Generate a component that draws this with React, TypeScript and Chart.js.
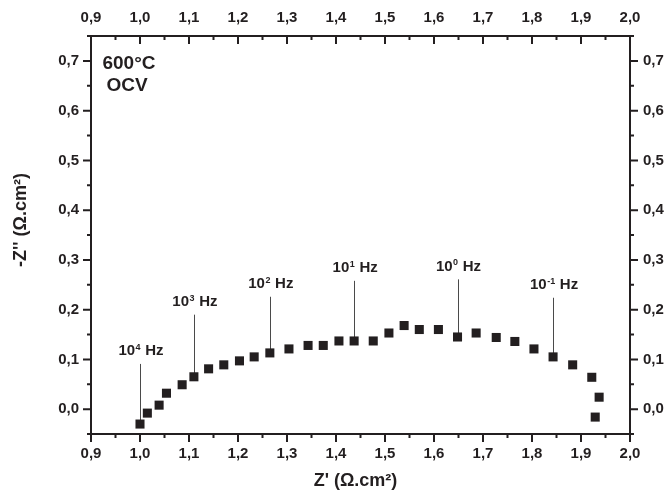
import React, { useEffect, useRef } from 'react';
import { Chart, registerables } from 'chart.js';

Chart.register(...registerables);

// Nyquist data: Z' (real) and -Z'' (imaginary), Ω.cm²
const zReal = [
  1.0, 1.015, 1.039, 1.054, 1.086, 1.11, 1.14, 1.171, 1.203, 1.233, 1.265,
  1.304, 1.343, 1.374, 1.406, 1.437, 1.476, 1.508, 1.539, 1.57, 1.609, 1.648,
  1.686, 1.727, 1.765, 1.804, 1.843, 1.883, 1.922, 1.937, 1.929,
];
const zImag = [
  -0.03, -0.008, 0.008, 0.032, 0.049, 0.065, 0.081, 0.089, 0.097, 0.105, 0.113,
  0.121, 0.128, 0.128, 0.137, 0.137, 0.137, 0.153, 0.168, 0.16, 0.16, 0.145,
  0.153, 0.144, 0.136, 0.121, 0.105, 0.089, 0.064, 0.024, -0.016,
];

// frequency markers
const freqExponents = ['4', '3', '2', '1', '0', '-1'];
const freqPointIndex = [0, 5, 10, 15, 21, 26];
const freqLabelY = [0.119, 0.218, 0.254, 0.286, 0.289, 0.252];

const xTickValues = [0.9, 1.0, 1.1, 1.2, 1.3, 1.4, 1.5, 1.6, 1.7, 1.8, 1.9, 2.0];
const xTickLabels = ['0,9', '1,0', '1,1', '1,2', '1,3', '1,4', '1,5', '1,6', '1,7', '1,8', '1,9', '2,0'];
const yTickValues = [0.0, 0.1, 0.2, 0.3, 0.4, 0.5, 0.6, 0.7];
const yTickLabels = ['0,0', '0,1', '0,2', '0,3', '0,4', '0,5', '0,6', '0,7'];

const conditionLines = ['600°C', 'OCV'];
const xTitle = "Z' (Ω.cm²)";
const yTitle = "-Z'' (Ω.cm²)";

const FONT = '"Liberation Sans", Arial, Helvetica, sans-serif';
const INK = '#231f20';

function labelFor(values: number[], labels: string[], v: number): string {
  for (let i = 0; i < values.length; i++) {
    if (Math.abs(values[i] - v) < 1e-6) return labels[i];
  }
  return '';
}

const decorPlugin = {
  id: 'decor',
  beforeDatasetsDraw(chart: any) {
    const { ctx } = chart;
    const xs = chart.scales.x;
    const ys = chart.scales.y;
    ctx.save();
    ctx.strokeStyle = '#4a4a4a';
    ctx.lineWidth = 1;
    freqPointIndex.forEach((idx, i) => {
      const px = Math.round(xs.getPixelForValue(zReal[idx])) + 0.5;
      const py0 = ys.getPixelForValue(freqLabelY[i]) + 14;
      const py1 = ys.getPixelForValue(zImag[idx]);
      ctx.beginPath();
      ctx.moveTo(px, py0);
      ctx.lineTo(px, py1);
      ctx.stroke();
    });
    ctx.restore();
  },
  afterDraw(chart: any) {
    const { ctx, chartArea: a } = chart;
    const xs = chart.scales.x;
    const ys = chart.scales.y;
    ctx.save();
    // frame
    ctx.strokeStyle = INK;
    ctx.lineWidth = 2;
    ctx.strokeRect(a.left, a.top, a.right - a.left, a.bottom - a.top);
    // x ticks (bottom outward, top inward)
    for (let k = 18; k <= 40; k++) {
      const v = k / 20;
      const px = xs.getPixelForValue(v);
      const len = k % 2 === 0 ? 8 : 4;
      ctx.beginPath();
      ctx.moveTo(px, a.bottom);
      ctx.lineTo(px, a.bottom + len);
      ctx.moveTo(px, a.top);
      ctx.lineTo(px, a.top + len);
      ctx.stroke();
    }
    // y ticks (left and right outward)
    for (let k = -1; k <= 15; k++) {
      const v = k / 20;
      const py = ys.getPixelForValue(v);
      const len = k % 2 === 0 ? 8 : 4;
      ctx.beginPath();
      ctx.moveTo(a.left - len, py);
      ctx.lineTo(a.left, py);
      ctx.moveTo(a.right, py);
      ctx.lineTo(a.right + len, py);
      ctx.stroke();
    }

    ctx.fillStyle = INK;
    ctx.textBaseline = 'alphabetic';

    // frequency labels with superscript exponents
    freqPointIndex.forEach((idx, i) => {
      const cx = xs.getPixelForValue(zReal[idx]);
      const base = ys.getPixelForValue(freqLabelY[i]) + 5.4;
      ctx.font = `bold 15px ${FONT}`;
      const wTen = ctx.measureText('10').width;
      const wHz = ctx.measureText(' Hz').width;
      ctx.font = `bold 9px ${FONT}`;
      const wExp = ctx.measureText(freqExponents[i]).width + 1;
      const total = wTen + wExp + wHz;
      let x = cx - total / 2 + 1;
      ctx.textAlign = 'left';
      ctx.font = `bold 15px ${FONT}`;
      ctx.fillText('10', x, base);
      x += wTen;
      ctx.font = `bold 9px ${FONT}`;
      ctx.fillText(freqExponents[i], x + 0.5, base - 5.5);
      x += wExp;
      ctx.font = `bold 15px ${FONT}`;
      ctx.fillText(' Hz', x, base);
    });

    // condition text
    ctx.font = `bold 19px ${FONT}`;
    ctx.textAlign = 'center';
    ctx.fillText(conditionLines[0], a.left + 38, a.top + 33.3);
    ctx.fillText(conditionLines[1], a.left + 36, a.top + 54.8);

    // axis titles
    ctx.font = `bold 18px ${FONT}`;
    ctx.textAlign = 'center';
    ctx.fillText(xTitle, (a.left + a.right) / 2 - 5, a.bottom + 51.5);
    ctx.save();
    ctx.translate(20, a.top + 184);
    ctx.rotate(-Math.PI / 2);
    ctx.fillText(yTitle, 0, 6.4);
    ctx.restore();

    ctx.restore();
  },
};

export default function App() {
  const canvasRef = useRef<HTMLCanvasElement | null>(null);

  useEffect(() => {
    const canvas = canvasRef.current;
    if (!canvas) return;
    const tickFont = { family: FONT, size: 15, weight: 'bold' as const };
    const noGrid = { display: false, drawTicks: false, tickLength: 0 };
    const xTicks = (padding: number) => ({
      autoSkip: false,
      maxRotation: 0,
      color: INK,
      font: tickFont,
      padding,
      callback: (v: any) => labelFor(xTickValues, xTickLabels, Number(v)),
    });
    const yTicks = (padding: number) => ({
      autoSkip: false,
      color: INK,
      font: tickFont,
      padding,
      callback: (v: any) => labelFor(yTickValues, yTickLabels, Number(v)),
    });
    const setXTicks = (s: any) => {
      s.ticks = xTickValues.map((value) => ({ value }));
    };
    const setYTicks = (s: any) => {
      s.ticks = yTickValues.map((value) => ({ value }));
    };

    const chart = new Chart(canvas, {
      type: 'scatter',
      data: {
        datasets: [
          {
            data: zReal.map((x, i) => ({ x, y: zImag[i] })),
            pointStyle: 'rect',
            pointRadius: 6.4,
            pointHoverRadius: 6.4,
            backgroundColor: INK,
            borderWidth: 0,
            showLine: false,
          },
        ],
      },
      options: {
        responsive: false,
        animation: false,
        events: [],
        layout: { padding: 0 },
        plugins: {
          legend: { display: false },
          tooltip: { enabled: false },
        },
        scales: {
          x: {
            type: 'linear',
            position: 'bottom',
            min: 0.9,
            max: 2.0,
            grid: noGrid,
            border: { display: false },
            ticks: xTicks(11),
            afterBuildTicks: setXTicks,
            afterFit: (s: any) => {
              s.height = 62;
            },
          },
          x2: {
            type: 'linear',
            position: 'top',
            min: 0.9,
            max: 2.0,
            grid: noGrid,
            border: { display: false },
            ticks: xTicks(9),
            afterBuildTicks: setXTicks,
            afterFit: (s: any) => {
              s.height = 36;
            },
          },
          y: {
            type: 'linear',
            position: 'left',
            min: -0.05,
            max: 0.75,
            grid: noGrid,
            border: { display: false },
            ticks: yTicks(12),
            afterBuildTicks: setYTicks,
            afterFit: (s: any) => {
              s.width = 91;
            },
          },
          y2: {
            type: 'linear',
            position: 'right',
            min: -0.05,
            max: 0.75,
            grid: noGrid,
            border: { display: false },
            ticks: yTicks(13),
            afterBuildTicks: setYTicks,
            afterFit: (s: any) => {
              s.width = 37;
            },
          },
        },
      } as any,
      plugins: [decorPlugin],
    });

    return () => {
      chart.destroy();
    };
  }, []);

  return (
    <div
      style={{
        position: 'fixed',
        left: 0,
        top: 0,
        width: 667,
        height: 496,
        overflow: 'hidden',
        background: '#fff',
      }}
    >
      <canvas ref={canvasRef} width={667} height={496} style={{ display: 'block' }} />
    </div>
  );
}
